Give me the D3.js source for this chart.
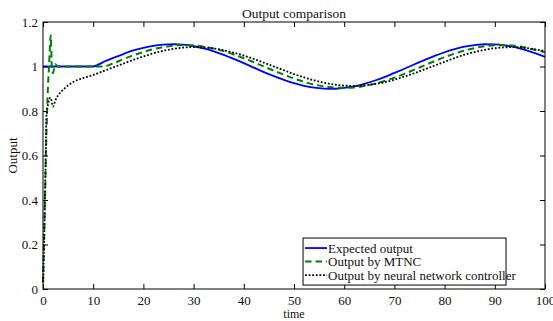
<!DOCTYPE html>
<html>
<head>
<meta charset="utf-8">
<script src="https://cdn.jsdelivr.net/npm/d3@7"></script>
<style>
  body { margin: 0; background: #fff; }
  svg text { font-family: 'Liberation Serif', 'Times New Roman', serif; fill: #111; }
</style>
</head>
<body>
<div id="chart"></div>
<script>
// values
const seriesNames = ['Expected output', 'Output by MTNC', 'Output by neural network controller']
const xTicks = [0, 10, 20, 30, 40, 50, 60, 70, 80, 90, 100]
const yTicks = [0, 0.2, 0.4, 0.6, 0.8, 1, 1.2]

// common time grid after the start
const timeGrid = [10, 12, 14, 16, 18, 20, 22, 24, 26, 28, 30, 32, 34, 36, 38, 40, 42, 44, 46, 48, 50,
  52, 54, 56, 58, 60, 62, 64, 66, 68, 70, 72, 74, 76, 78, 80, 82, 84, 86, 88, 90, 92, 94, 96, 98, 100]
const expectedOutput = [1.000, 1.020, 1.039, 1.056, 1.072, 1.084, 1.093, 1.098, 1.100, 1.098, 1.091,
  1.081, 1.068, 1.052, 1.034, 1.015, 0.995, 0.975, 0.957, 0.940, 0.925, 0.913, 0.905, 0.901, 0.900,
  0.904, 0.911, 0.922, 0.936, 0.952, 0.971, 0.990, 1.010, 1.029, 1.048, 1.064, 1.078, 1.089, 1.096,
  1.100, 1.099, 1.095, 1.087, 1.075, 1.060, 1.043]
const mtncOutput = [1.000, 1.000, 1.014, 1.033, 1.050, 1.065, 1.078, 1.087, 1.094, 1.096, 1.095,
  1.089, 1.081, 1.069, 1.054, 1.037, 1.019, 1.000, 0.981, 0.963, 0.946, 0.931, 0.919, 0.911, 0.905,
  0.904, 0.906, 0.913, 0.922, 0.935, 0.950, 0.967, 0.986, 1.005, 1.024, 1.042, 1.058, 1.072, 1.083,
  1.091, 1.095, 1.096, 1.093, 1.085, 1.075, 1.064]
const nnOutput = [0.962, 0.979, 0.996, 1.013, 1.030, 1.045, 1.059, 1.071, 1.079, 1.085, 1.087,
  1.086, 1.081, 1.073, 1.062, 1.049, 1.034, 1.017, 1.000, 0.983, 0.966, 0.951, 0.938, 0.927, 0.919,
  0.914, 0.913, 0.915, 0.921, 0.929, 0.941, 0.955, 0.970, 0.987, 1.004, 1.021, 1.038, 1.053, 1.065,
  1.075, 1.082, 1.086, 1.087, 1.084, 1.077, 1.070]

// start-up transients (before t = 10)
const expectedStartT = [0]
const expectedStartV = [1]
const mtncStartT = [0, 0.3, 0.6, 0.9, 1.2, 1.55, 1.75, 2.0, 2.4, 3]
const mtncStartV = [0.03, 0.3, 0.62, 0.86, 1.0, 1.14, 1.0, 0.97, 1.01, 1.0]
const nnStartT = [0.05, 0.3, 0.5, 0.7, 1.0, 1.5, 2.0, 2.5, 3, 4, 5, 6, 8]
const nnStartV = [0.03, 0.3, 0.55, 0.78, 0.83, 0.86, 0.82, 0.85, 0.87, 0.895, 0.915, 0.93, 0.948]

const chart = {
  width: 553,
  height: 321,
  padding: { left: 43, right: 8, top: 22, bottom: 32 },
  font: "'Liberation Serif', 'Times New Roman', serif"
}

function joinSeries (startT, startV, values) {
  const pts = startT.map((t, i) => ({ t: t, v: startV[i] }))
  return pts.concat(timeGrid.map((t, i) => ({ t: t, v: values[i] })))
}

const series = [
  { name: seriesNames[0], pts: joinSeries(expectedStartT, expectedStartV, expectedOutput), color: '#0000ff', width: 1.8, dash: null },
  { name: seriesNames[1], pts: joinSeries(mtncStartT, mtncStartV, mtncOutput), color: '#008000', width: 2, dash: '6.5,4' },
  { name: seriesNames[2], pts: joinSeries(nnStartT, nnStartV, nnOutput), color: '#000000', width: 1.8, dash: '1.8,1.8' }
]

const svg = d3.select('#chart')
  .append('svg')
  .attr('width', chart.width)
  .attr('height', chart.height)

const pw = chart.width - chart.padding.left - chart.padding.right
const ph = chart.height - chart.padding.top - chart.padding.bottom

const x = d3.scaleLinear().domain([0, 100]).range([0, pw])
const y = d3.scaleLinear().domain([0, 1.2]).range([ph, 0])

const g = svg.append('g')
  .attr('transform', `translate(${chart.padding.left},${chart.padding.top})`)

// axes, MATLAB style: ticks point inward, box all round
const fmt = d => d3.format('~g')(d)
g.append('g')
  .attr('transform', `translate(0,${ph})`)
  .call(d3.axisBottom(x).tickValues(xTicks).tickFormat(fmt).tickSize(-5).tickSizeOuter(0).tickPadding(7))
g.append('g')
  .call(d3.axisLeft(y).tickValues(yTicks).tickFormat(fmt).tickSize(-5).tickSizeOuter(0).tickPadding(5))
g.append('g')
  .call(d3.axisTop(x).tickValues(xTicks).tickFormat('').tickSize(-5).tickSizeOuter(0))
g.append('g')
  .attr('transform', `translate(${pw},0)`)
  .call(d3.axisRight(y).tickValues(yTicks).tickFormat('').tickSize(-5).tickSizeOuter(0))

g.selectAll('.domain').remove()
g.selectAll('.tick line').attr('stroke', '#000')
g.selectAll('.tick text')
  .attr('font-size', 13)
  .style('font-family', chart.font)
  .style('fill', '#111')

const line = d3.line()
  .x(d => x(d.t))
  .y(d => y(d.v))
  .curve(d3.curveMonotoneX)

g.selectAll('.series')
  .data(series)
  .enter()
  .append('path')
  .attr('class', 'series')
  .attr('d', d => line(d.pts))
  .attr('fill', 'none')
  .attr('stroke', d => d.color)
  .attr('stroke-width', d => d.width)
  .attr('stroke-dasharray', d => d.dash)

g.append('rect')
  .attr('width', pw)
  .attr('height', ph)
  .attr('fill', 'none')
  .attr('stroke', '#000')
  .attr('stroke-width', 1)

// legend
const legend = g.append('g')
  .attr('transform', `translate(${x(51.8)},${y(0.229)})`)
legend.append('rect')
  .attr('width', 203)
  .attr('height', 47)
  .attr('fill', '#fff')
  .attr('stroke', '#000')
  .attr('stroke-width', 1)
const item = legend.selectAll('.item')
  .data(series)
  .enter()
  .append('g')
  .attr('class', 'item')
  .attr('transform', (d, i) => `translate(0,${10 + i * 13.5})`)
item.append('line')
  .attr('x1', 2)
  .attr('x2', 24)
  .attr('stroke', d => d.color)
  .attr('stroke-width', d => d.width)
  .attr('stroke-dasharray', d => d.dash)
item.append('text')
  .attr('x', 25)
  .attr('dy', '0.35em')
  .attr('font-size', 13)
  .text(d => d.name)

// titles
svg.append('text')
  .attr('x', chart.padding.left + pw / 2)
  .attr('y', 18)
  .attr('text-anchor', 'middle')
  .attr('font-size', 13.5)
  .text('Output comparison')
svg.append('text')
  .attr('x', chart.padding.left + pw / 2)
  .attr('y', 318)
  .attr('text-anchor', 'middle')
  .attr('font-size', 12)
  .text('time')
svg.append('text')
  .attr('transform', `translate(17,${chart.padding.top + ph / 2}) rotate(-90)`)
  .attr('text-anchor', 'middle')
  .attr('font-size', 13)
  .text('Output')
</script>
</body>
</html>
